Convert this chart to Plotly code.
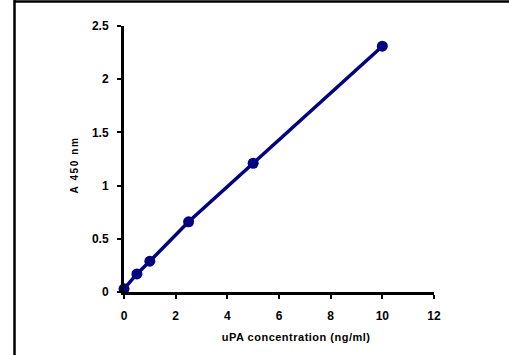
import plotly.graph_objects as go

conc = [0, 0.5, 1, 2.5, 5, 10]
a450 = [0.03, 0.17, 0.29, 0.66, 1.21, 2.31]
x_ticks = [0, 2, 4, 6, 8, 10, 12]
y_ticks = [0, 0.5, 1, 1.5, 2, 2.5]
y_tick_text = ["0", "0.5", "1", "1.5", "2", "2.5"]
x_title = "uPA concentration (ng/ml)"
y_title = "A 450 nm"

navy = "#000080"
font_fam = "Liberation Sans, Arial, sans-serif"

fig = go.Figure()
fig.add_trace(go.Scatter(
    x=conc, y=a450, mode="lines+markers",
    line=dict(color=navy, width=3.5),
    marker=dict(color=navy, size=11),
    cliponaxis=False, showlegend=False,
))

L, R, T, B = 124, 75, 26, 63
W, H = 509, 355
pw, ph = W - L - R, H - T - B

fig.update_layout(
    width=W, height=H,
    margin=dict(l=L, r=R, t=T, b=B),
    paper_bgcolor="white", plot_bgcolor="white",
    font=dict(family=font_fam, size=11, color="black"),
    xaxis=dict(
        range=[0, 12], tickvals=x_ticks, showgrid=False, zeroline=False,
        showline=True, linecolor="black", linewidth=3,
        ticks="outside", ticklen=4, tickwidth=2, tickcolor="black",
        tickfont=dict(size=12, family=font_fam, weight="bold"),
        ticklabelstandoff=7,
    ),
    yaxis=dict(
        range=[0, 2.5], tickvals=y_ticks, ticktext=y_tick_text, showgrid=False, zeroline=False,
        showline=True, linecolor="black", linewidth=3,
        ticks="outside", ticklen=4, tickwidth=2, tickcolor="black",
        tickfont=dict(size=12, family=font_fam, weight="bold"),
        ticklabelstandoff=6,
    ),
    annotations=[
        dict(text="<b>" + x_title + "</b>", xref="paper", yref="paper",
             x=(296 - L) / pw, y=(H - B - 337) / ph, xanchor="center", yanchor="middle",
             showarrow=False, font=dict(size=11, family=font_fam)),
        dict(text="<b>" + y_title + "</b>", xref="paper", yref="paper",
             x=(75 - L) / pw, y=(H - B - 165) / ph, xanchor="center", yanchor="middle",
             textangle=-90, showarrow=False, font=dict(size=10, family=font_fam)),
    ],
    shapes=[
        dict(type="line", xref="paper", yref="paper",
             x0=(14.5 - L) / pw, x1=(14.5 - L) / pw, y0=(H - B) / ph, y1=-B / ph - 0.1,
             line=dict(color="black", width=2.5)),
        dict(type="line", xref="paper", yref="paper",
             x0=(14.5 - L) / pw, x1=(W + 5 - L) / pw, y0=(H - B - 1.5) / ph, y1=(H - B - 1.5) / ph,
             line=dict(color="black", width=2.5)),
    ],
)

post = """
document.body.style.margin='0';
document.body.style.overflow='hidden';
var a = document.querySelectorAll('.annotation-text');
if (a.length > 0) a[0].style.letterSpacing = '0.5px';
if (a.length > 1) a[1].style.letterSpacing = '1.6px';
"""
fig.write_html("out.html", post_script=post, config={"displayModeBar": False})
